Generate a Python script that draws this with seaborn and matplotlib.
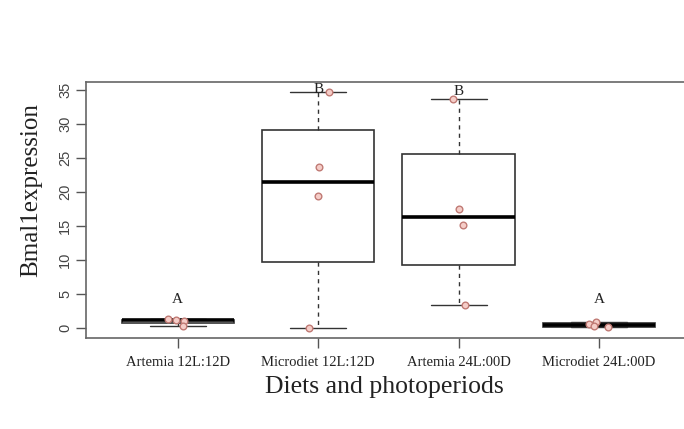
import numpy as np
import pandas as pd
import seaborn as sns
import matplotlib.pyplot as plt

# values (4 fish per group)
groups = ['Artemia 12L:12D', 'Microdiet 12L:12D', 'Artemia 24L:00D', 'Microdiet 24L:00D']
artemia_12 = [1.3, 1.05, 1.15, 0.3]
microdiet_12 = [34.7, 23.6, 19.4, 0.05]
artemia_24 = [33.7, 17.45, 15.15, 3.4]
microdiet_24 = [0.83, 0.55, 0.3, 0.1]
letters = ['A', 'B', 'B', 'A']
letter_y = [4.2, 35.1, 34.8, 4.2]
yticks = [0, 5, 10, 15, 20, 25, 30, 35]

series = [artemia_12, microdiet_12, artemia_24, microdiet_24]
df = pd.DataFrame({
    'group': np.repeat(groups, [len(s) for s in series]),
    'value': np.concatenate(series),
})


def fivenum(v):
    # Tukey five-number summary, same as R's boxplot
    x = np.sort(np.asarray(v, dtype=float))
    n = len(x)
    n4 = np.floor((n + 3) / 2) / 2
    d = np.array([1, n4, (n + 1) / 2, n + 1 - n4, n]) - 1
    return 0.5 * (x[np.floor(d).astype(int)] + x[np.ceil(d).astype(int)])


sns.set_theme(style='white')
plt.rcParams['font.family'] = ['Liberation Serif', 'DejaVu Serif']

fig = plt.figure(figsize=(6.84, 4.29), dpi=100)
ax = fig.add_axes([86 / 684, 1 - 337.5 / 429, 1 - 86 / 684, 255.8 / 429])

stats = []
for s in series:
    lo, q1, med, q3, hi = fivenum(s)
    stats.append(dict(whislo=lo, q1=q1, med=med, q3=q3, whishi=hi, fliers=[]))

ax.bxp(stats, positions=range(len(groups)), widths=0.8, capwidths=0.4,
       showfliers=False, patch_artist=True,
       boxprops=dict(facecolor='white', edgecolor='#333333', linewidth=1.2),
       medianprops=dict(color='black', linewidth=2.6),
       whiskerprops=dict(color='#333333', linewidth=1.0, linestyle=(0, (3, 3))),
       capprops=dict(color='#333333', linewidth=1.0))

np.random.seed(7)
sns.stripplot(data=df, x='group', y='value', order=groups, jitter=0.08,
              color='#f5cdc8', edgecolor='#c07a74', linewidth=1.0, size=4.8,
              ax=ax, zorder=4)

for i, (lab, y) in enumerate(zip(letters, letter_y)):
    ax.text(i, y, lab, ha='center', va='center', fontsize=11, color='#222222')

ax.set_xlim(-0.653, 3.605)
ax.set_ylim(-1.4, 36.2)
ax.set_yticks(yticks)
ax.set_xticks(range(len(groups)))
ax.set_xticklabels(groups, fontsize=10.5, color='#222222')
ax.set_yticklabels([str(t) for t in yticks], rotation=90, va='center',
                   family='Liberation Sans', fontsize=10.5, color='#444444')
ax.tick_params(axis='both', direction='out', length=7, width=1, color='#555555',
               left=True, bottom=True)
ax.tick_params(axis='x', pad=6)
ax.tick_params(axis='y', pad=3)
ax.set_xlabel('')
ax.set_ylabel('')
for side in ['left', 'bottom', 'top']:
    ax.spines[side].set_color('#666666')
    ax.spines[side].set_linewidth(1.2)
ax.spines['right'].set_visible(False)

fig.text(384 / 684, 1 - 387 / 429, 'Diets and photoperiods', ha='center', va='center',
         fontsize=18.5, color='#222222')
fig.text(31 / 684, 1 - 190 / 429, 'Bmal1expression', ha='center', va='center',
         rotation=90, fontsize=18, color='#222222')

plt.savefig('out.png', dpi=100)
plt.close()
